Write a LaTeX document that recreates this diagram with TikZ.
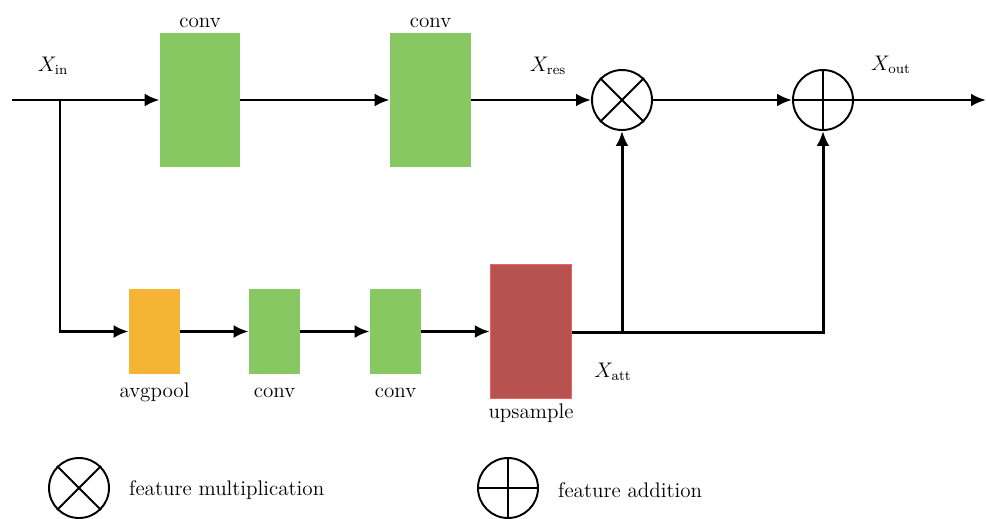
\documentclass[tikz,border=0pt]{standalone}
\usepackage{amsmath}
\usepackage{tikz}
\usetikzlibrary{arrows.meta,shapes,positioning}
\usepackage{xcolor}
\definecolor{convgreen}{RGB}{136,200,98}
\definecolor{poolorange}{RGB}{245,180,52}
\definecolor{upred}{RGB}{184,82,80}
\definecolor{upedge}{RGB}{238,98,98}
\tikzstyle{arrow} = [line width=1.7pt,->,>={Latex[length=3mm,width=2.6mm]},color=black]
\tikzstyle{op} = [circle, draw, line width=1.1pt, minimum size=1.2cm, inner sep=0pt]

\begin{document}
\begin{tikzpicture}[x=0.02cm, y=-0.02cm, font=\large]
    \useasboundingbox (0,0) rectangle (986,518);

    % Main path
    \node[rectangle, fill=convgreen, minimum width=1.6cm, minimum height=2.68cm] (c1) at (200,100) {};
    \node[rectangle, fill=convgreen, minimum width=1.62cm, minimum height=2.68cm] (c2) at (430.5,100) {};
    \node[op] (mul) at (622,100) {};
    \node[op] (add) at (823,100) {};
    \draw[line width=1.1pt] (mul.45) -- (mul.225) (mul.135) -- (mul.315);
    \draw[line width=1.1pt] (add.north) -- (add.south) (add.west) -- (add.east);
    \coordinate (in) at (12,100);
    \coordinate (br) at (60,100);
    \coordinate (out) at (986,100);

    % Attention branch
    \node[rectangle, fill=poolorange, minimum width=1.02cm, minimum height=1.7cm] (pool) at (154.5,331.5) {};
    \node[rectangle, fill=convgreen, minimum width=1.02cm, minimum height=1.7cm] (c3) at (274.5,331.5) {};
    \node[rectangle, fill=convgreen, minimum width=1.02cm, minimum height=1.7cm] (c4) at (395.5,331.5) {};
    \node[rectangle, fill=upred, draw=upedge, line width=0.8pt, minimum width=1.62cm, minimum height=2.68cm] (up) at (531,331.5) {};
    \coordinate (att) at (622,332);

    % Connections
    \draw[arrow] (in) -- (c1);
    \draw[arrow] (c1) -- (c2);
    \draw[arrow] (c2) -- (mul);
    \draw[arrow] (mul) -- (add);
    \draw[arrow] (add) -- (out);
    \draw[arrow] (br) |- (pool);
    \draw[arrow] (pool) -- (c3);
    \draw[arrow] (c3) -- (c4);
    \draw[arrow] (c4) -- (up);
    \draw[arrow] (up.east |- att) -| (add);
    \draw[arrow] (att) -- (mul);

    % Labels
    \node[anchor=base] (lc1) at (200,27) {conv};
    \node[anchor=base] (lc2) at (430.5,27) {conv};
    \node[anchor=base] (lpool) at (154.5,397) {avgpool};
    \node[anchor=base] (lc3) at (274.5,397) {conv};
    \node[anchor=base] (lc4) at (395.5,397) {conv};
    \node[anchor=base] (lup) at (531,418) {upsample};
    \node (xin) at (53,66) {$X_{\text{in}}$};
    \node (xres) at (548,66) {$X_{\text{res}}$};
    \node (xout) at (891,65) {$X_{\text{out}}$};
    \node (xatt) at (613,372) {$X_{\text{att}}$};

    % Legend
    \node[op] (lmul) at (79,488) {};
    \draw[line width=1.1pt] (lmul.45) -- (lmul.225) (lmul.135) -- (lmul.315);
    \node[anchor=west] (tmul) at (123,490) {feature multiplication};
    \node[op] (ladd) at (508,488) {};
    \draw[line width=1.1pt] (ladd.north) -- (ladd.south) (ladd.west) -- (ladd.east);
    \node[anchor=west] (tadd) at (552,490) {feature addition};
\end{tikzpicture}
\end{document}
